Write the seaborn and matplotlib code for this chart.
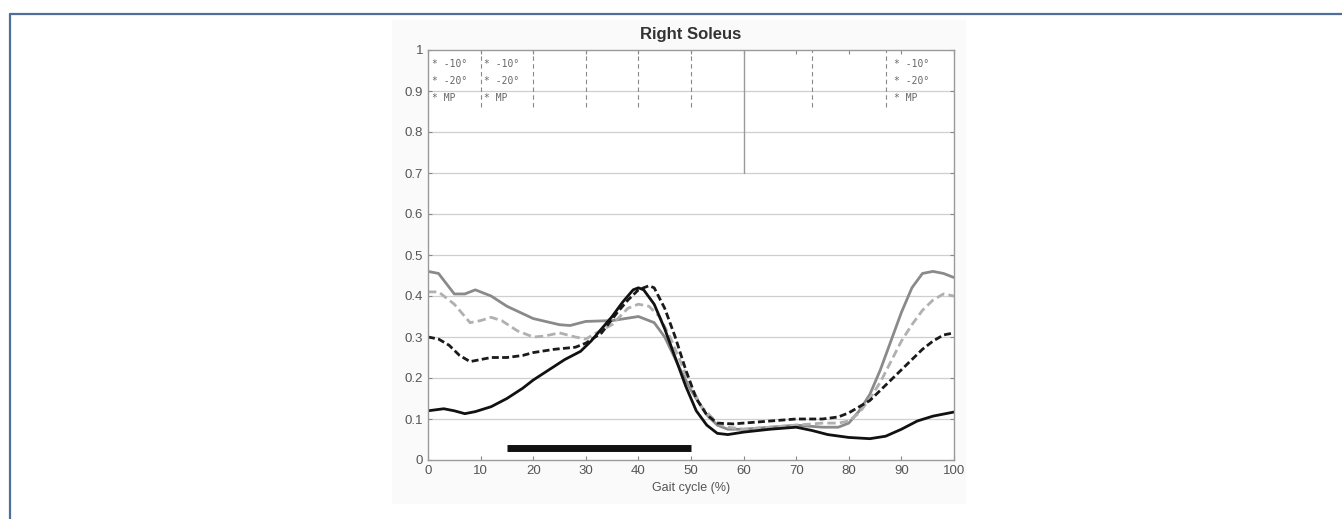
import matplotlib
matplotlib.use("Agg")
import matplotlib.pyplot as plt
import seaborn as sns
import numpy as np
from matplotlib.lines import Line2D
from matplotlib.patches import Rectangle

# values (gait cycle %, normalised EMG)
gray_x = [0, 2, 5, 7, 9, 12, 15, 20, 25, 27, 30, 35, 40, 43, 45, 48, 50, 53, 55, 57, 60, 65, 70, 75, 78, 80, 82, 84, 86, 88, 90, 92, 94, 96, 98, 100]
gray_y = [0.46, 0.455, 0.405, 0.405, 0.415, 0.40, 0.375, 0.345, 0.33, 0.328, 0.338, 0.34, 0.35, 0.335, 0.30, 0.22, 0.17, 0.11, 0.085, 0.075, 0.075, 0.08, 0.085, 0.08, 0.08, 0.09, 0.12, 0.16, 0.22, 0.29, 0.36, 0.42, 0.455, 0.46, 0.455, 0.445]

light_x = [0, 2, 5, 8, 10, 12, 14, 17, 20, 22, 25, 28, 30, 32, 35, 38, 40, 42, 44, 46, 48, 50, 52, 55, 57, 60, 65, 70, 75, 78, 80, 82, 84, 86, 88, 90, 92, 94, 96, 98, 100]
light_y = [0.41, 0.41, 0.38, 0.335, 0.34, 0.348, 0.34, 0.315, 0.30, 0.302, 0.31, 0.30, 0.295, 0.31, 0.33, 0.37, 0.38, 0.375, 0.35, 0.30, 0.24, 0.18, 0.13, 0.09, 0.08, 0.075, 0.08, 0.085, 0.09, 0.09, 0.095, 0.115, 0.15, 0.19, 0.24, 0.29, 0.33, 0.365, 0.39, 0.405, 0.40]

bdash_x = [0, 2, 4, 6, 8, 10, 12, 15, 18, 20, 24, 28, 30, 33, 36, 38, 40, 42, 43, 45, 47, 49, 51, 53, 55, 58, 60, 65, 70, 75, 78, 80, 82, 84, 86, 88, 90, 92, 94, 96, 98, 100]
bdash_y = [0.30, 0.295, 0.28, 0.255, 0.24, 0.245, 0.25, 0.25, 0.255, 0.262, 0.27, 0.275, 0.285, 0.31, 0.36, 0.39, 0.415, 0.425, 0.42, 0.37, 0.30, 0.22, 0.15, 0.11, 0.09, 0.088, 0.09, 0.095, 0.10, 0.10, 0.105, 0.115, 0.13, 0.145, 0.17, 0.195, 0.22, 0.245, 0.27, 0.29, 0.305, 0.31]

black_x = [0, 3, 5, 7, 9, 12, 15, 18, 20, 23, 26, 29, 31, 33, 35, 37, 39, 40, 41, 43, 45, 47, 49, 51, 53, 55, 57, 60, 65, 70, 73, 76, 80, 84, 87, 90, 93, 96, 100]
black_y = [0.12, 0.125, 0.12, 0.113, 0.118, 0.13, 0.15, 0.175, 0.195, 0.22, 0.245, 0.265, 0.29, 0.32, 0.35, 0.385, 0.415, 0.42, 0.415, 0.38, 0.32, 0.25, 0.18, 0.12, 0.085, 0.065, 0.062, 0.068, 0.075, 0.08, 0.072, 0.062, 0.055, 0.052, 0.058, 0.075, 0.095, 0.107, 0.117]

bar_span = [15, 50]
bar_level = 0.03

event_dashed = [10, 20, 30, 40, 50, 73, 87]
event_solid = 60
label_cols = [0.7, 10.7, 88.6]
labels = ["* -10\u00b0", "* -20\u00b0", "* MP"]

sns.set_style("white")
plt.rcParams['font.family'] = ['Liberation Sans', 'DejaVu Sans']

fig = plt.figure(figsize=(13.42, 5.19), dpi=100)
# faint backdrop of the pasted figure
fig.patches.append(Rectangle((392 / 1342, 1 - 503 / 519), 573 / 1342, 483 / 519,
                             transform=fig.transFigure, color='#fafafa', zorder=-5))
# blue frame (top and left)
fig.add_artist(Line2D([10 / 1342, 1], [1 - 14 / 519, 1 - 14 / 519], color='#4f6f9a', lw=1.6))
fig.add_artist(Line2D([10 / 1342, 10 / 1342], [0, 1 - 14 / 519], color='#4f6f9a', lw=1.6))

ax = fig.add_axes([428 / 1342, 1 - 460 / 519, 526 / 1342, 410 / 519])
ax.set_facecolor('white')
ax.set_zorder(2)

for yv in np.arange(0.1, 1.0, 0.1):
    ax.axhline(yv, color='#cfcfcf', lw=0.9, zorder=0)

sns.lineplot(x=gray_x, y=gray_y, ax=ax, color='#8a8a8a', lw=2.0, sort=False)
sns.lineplot(x=light_x, y=light_y, ax=ax, color='#b0b0b0', lw=2.0, sort=False, linestyle=(0, (3, 1.5)))
sns.lineplot(x=bdash_x, y=bdash_y, ax=ax, color='#1a1a1a', lw=2.0, sort=False, linestyle=(0, (2.5, 1.2)))
sns.lineplot(x=black_x, y=black_y, ax=ax, color='#111111', lw=2.0, sort=False)

ax.plot(bar_span, [bar_level, bar_level], color='#111111', lw=5, solid_capstyle='butt')

for xv in event_dashed:
    ax.plot([xv, xv], [0.86, 1.0], color='#888888', lw=0.8, linestyle=(0, (4, 3)))
ax.plot([event_solid, event_solid], [0.70, 1.0], color='#999999', lw=1.0)

for xc in label_cols:
    for i, lab in enumerate(labels):
        ax.text(xc, 0.966 - i * 0.041, lab, fontsize=7, color='#666666',
                va='center', ha='left', family='DejaVu Sans Mono')

ax.set_xlim(0, 100)
ax.set_ylim(0, 1)
ax.set_xticks(range(0, 101, 10))
ax.set_yticks(np.round(np.arange(0, 1.01, 0.1), 1))
ax.set_yticklabels(['0', '0.1', '0.2', '0.3', '0.4', '0.5', '0.6', '0.7', '0.8', '0.9', '1'])
ax.tick_params(direction='in', length=3, color='#888888', labelcolor='#555555',
               labelsize=9.5, top=True, right=True, bottom=True, left=True)
for sp in ax.spines.values():
    sp.set_color('#9a9a9a')
    sp.set_linewidth(1.0)

ax.set_xlabel('Gait cycle (%)', fontsize=9, color='#555555', labelpad=4)
ax.set_title('Right Soleus', fontsize=12, fontweight='bold', color='#333333', pad=8)

fig.savefig('out.png', dpi=100)
